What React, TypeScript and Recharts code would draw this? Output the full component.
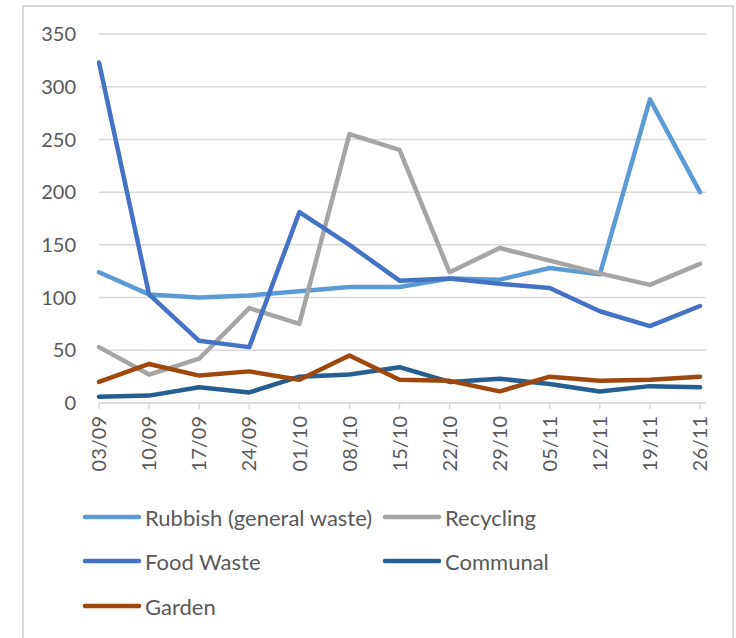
import React from 'react';
import { LineChart, Line, XAxis, YAxis, CartesianGrid } from 'recharts';

const weeks = ['03/09', '10/09', '17/09', '24/09', '01/10', '08/10', '15/10', '22/10', '29/10', '05/11', '12/11', '19/11', '26/11'];
const rubbish = [124, 103, 100, 102, 106, 110, 110, 118, 117, 128, 122, 288, 200];
const recycling = [53, 27, 42, 90, 75, 255, 240, 124, 147, 135, 123, 112, 132];
const foodWaste = [323, 103, 59, 53, 181, 150, 116, 118, 113, 109, 87, 73, 92];
const communal = [6, 7, 15, 10, 25, 27, 34, 20, 23, 18, 11, 16, 15];
const garden = [20, 37, 26, 30, 22, 45, 22, 21, 11, 25, 21, 22, 25];
const yTicks = [0, 50, 100, 150, 200, 250, 300, 350];

const SERIES = [
    { key: 'rubbish', name: 'Rubbish (general waste)', color: '#5B9BD5' },
    { key: 'recycling', name: 'Recycling', color: '#A5A5A5' },
    { key: 'foodWaste', name: 'Food Waste', color: '#4472C4' },
    { key: 'communal', name: 'Communal', color: '#255E91' },
    { key: 'garden', name: 'Garden', color: '#9E480E' },
];

const data = weeks.map((w, i) => ({
    week: w,
    rubbish: rubbish[i],
    recycling: recycling[i],
    foodWaste: foodWaste[i],
    communal: communal[i],
    garden: garden[i],
}));

const FONT = 'Lato, "Open Sans", sans-serif';
const TEXT = '#595959';
const GRID = '#D9D9D9';

const RotatedTick = ({ x, y, payload }: any) => (
    <g transform={`translate(${x},${y})`}>
        <text transform="rotate(-90)" textAnchor="end" dy="0.36em" fill={TEXT} fontSize={20} fontFamily={FONT}>
            {payload.value}
        </text>
    </g>
);

const LegendItem = ({ name, color, left, top }: any) => (
    <div style={{ position: 'absolute', left, top, display: 'flex', alignItems: 'center', height: 24 }}>
        <svg width={60} height={10} style={{ display: 'block' }}>
            <line x1={3} y1={5} x2={57} y2={5} stroke={color} strokeWidth={4.5} strokeLinecap="round" />
        </svg>
        <span style={{ color: TEXT, fontSize: 22, fontFamily: FONT, marginLeft: 3, whiteSpace: 'nowrap' }}>{name}</span>
    </div>
);

// legend slots: two columns, three rows (like Excel's wrapped bottom legend)
const LEGEND_POS = [
    [0, 0], [300, 0],
    [0, 44], [300, 44],
    [0, 89],
];

export default function App() {
    return (
        <div style={{ position: 'absolute', left: 0, top: 0, width: 736, height: 638, background: '#fff', overflow: 'hidden' }}>
            <div style={{ position: 'absolute', left: 22, top: 5, width: 712, height: 660, border: `2px solid ${GRID}`, boxSizing: 'border-box' }} />
            <LineChart width={736} height={638} data={data} margin={{ top: 34, right: 30, left: 0, bottom: 135 }}>
                <CartesianGrid vertical={false} stroke={GRID} strokeWidth={1.5} />
                <XAxis
                    dataKey="week"
                    axisLine={{ stroke: GRID, strokeWidth: 1.5 }}
                    tickLine={{ stroke: GRID, strokeWidth: 1.5 }}
                    tickSize={6}
                    tickMargin={7}
                    interval={0}
                    padding={{ left: 0, right: 6 }}
                    tick={<RotatedTick />}
                    height={100}
                />
                <YAxis
                    domain={[0, 350]}
                    ticks={yTicks}
                    width={99}
                    axisLine={false}
                    tickLine={false}
                    tickSize={0}
                    tickMargin={23}
                    tick={{ fill: TEXT, fontSize: 20, fontFamily: FONT }}
                />
                {SERIES.map((s) => (
                    <Line
                        key={s.key}
                        type="linear"
                        dataKey={s.key}
                        name={s.name}
                        stroke={s.color}
                        strokeWidth={4.5}
                        strokeLinecap="round"
                        strokeLinejoin="round"
                        dot={false}
                        activeDot={false}
                        isAnimationActive={false}
                    />
                ))}
            </LineChart>
            <div style={{ position: 'absolute', left: 82, top: 505, width: 620, height: 120 }}>
                {SERIES.map((s, i) => (
                    <LegendItem key={s.key} name={s.name} color={s.color} left={LEGEND_POS[i][0]} top={LEGEND_POS[i][1]} />
                ))}
            </div>
        </div>
    );
}
